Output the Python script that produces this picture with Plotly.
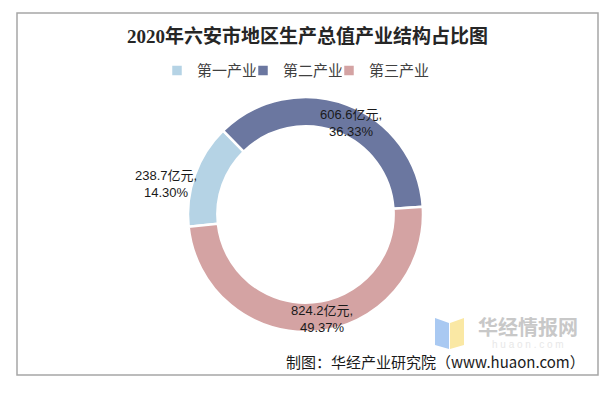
import plotly.graph_objects as go

categories = ["第一产业", "第二产业", "第三产业"]
values = [238.7, 606.6, 824.2]
colors = ["#B5D3E5", "#6B77A0", "#D4A3A3"]

W, H = 616, 393
OFF = 8  # default page body margin
def px(x): return (x - OFF) / W
def py(y): return 1 - (y - OFF) / H

total = sum(values)
labels_text = [f"{v}亿元,<br>{v / total * 100:.2f}%" for v in values]
label_pos = [(166, 184), (351, 123), (322, 319)]

fig = go.Figure()
fig.add_trace(go.Pie(
    labels=categories, values=values, sort=False, direction="clockwise",
    rotation=264, hole=0.75,
    marker=dict(colors=colors, line=dict(color="white", width=2.5)),
    textinfo="none",
    domain=dict(x=[px(188), px(423)], y=[py(332), py(97)]),
    hoverinfo="label+value+percent",
))

lab_font = dict(family="Liberation Sans, Noto Sans CJK SC", size=13, color="#1a1a1a")
annotations = [
    dict(text="2020年六安市地区生产总值产业结构占比图", x=px(307), y=py(36), xref="paper", yref="paper",
         xanchor="center", yanchor="middle", showarrow=False,
         font=dict(family="Liberation Serif, Noto Sans CJK SC", size=19, color="#262626", weight="bold")),
]
for t, (lx, ly) in zip(labels_text, label_pos):
    annotations.append(dict(text=t, x=px(lx), y=py(ly), xref="paper", yref="paper", xanchor="center",
                            yanchor="middle", showarrow=False, font=lab_font))
annotations += [
    dict(text="华经情报网", x=px(528), y=py(326), xref="paper", yref="paper", xanchor="center", yanchor="middle",
         showarrow=False, font=dict(family="Noto Sans CJK SC", size=20, color="#C8C8C8", weight="bold")),
    dict(text="h u a o n . c o m", x=px(528), y=py(344), xref="paper", yref="paper", xanchor="center",
         yanchor="middle", showarrow=False, font=dict(family="Liberation Sans", size=10, color="#E8E8E8")),
    dict(text="制图：华经产业研究院（www.huaon.com）", x=px(587), y=py(361), xref="paper", yref="paper",
         xanchor="right", yanchor="middle", showarrow=False,
         font=dict(family="Noto Sans CJK SC, Liberation Sans", size=15, color="#1a1a1a")),
]

shapes = [
    dict(type="rect", xref="paper", yref="paper", x0=px(17), x1=px(598), y0=py(375), y1=py(13),
         line=dict(color="#A6A6A6", width=1.5), fillcolor="rgba(0,0,0,0)", layer="below"),
    dict(type="path", xref="paper", yref="paper",
         path=f"M {px(435)} {py(318)} L {px(449)} {py(323)} L {px(449)} {py(349)} L {px(435)} {py(345)} Z",
         fillcolor="#A9C9F2", line=dict(width=0)),
    dict(type="path", xref="paper", yref="paper",
         path=f"M {px(450)} {py(323)} L {px(464)} {py(318)} L {px(464)} {py(345)} L {px(450)} {py(349)} Z",
         fillcolor="#FAE8A4", line=dict(width=0)),
]

fig.update_layout(
    width=W, height=H, margin=dict(l=0, r=0, t=0, b=0),
    paper_bgcolor="white", plot_bgcolor="white",
    showlegend=True,
    legend=dict(orientation="h", x=px(157), xanchor="left", y=py(87), yanchor="bottom",
                font=dict(family="Noto Sans CJK SC", size=15, color="#404040"),
                itemwidth=30, entrywidth=41, traceorder="normal",
                title=dict(text="&nbsp;" * 300, side="top", font=dict(size=4, color="white"))),
    annotations=annotations, shapes=shapes,
)

fig.write_html("out.html")
